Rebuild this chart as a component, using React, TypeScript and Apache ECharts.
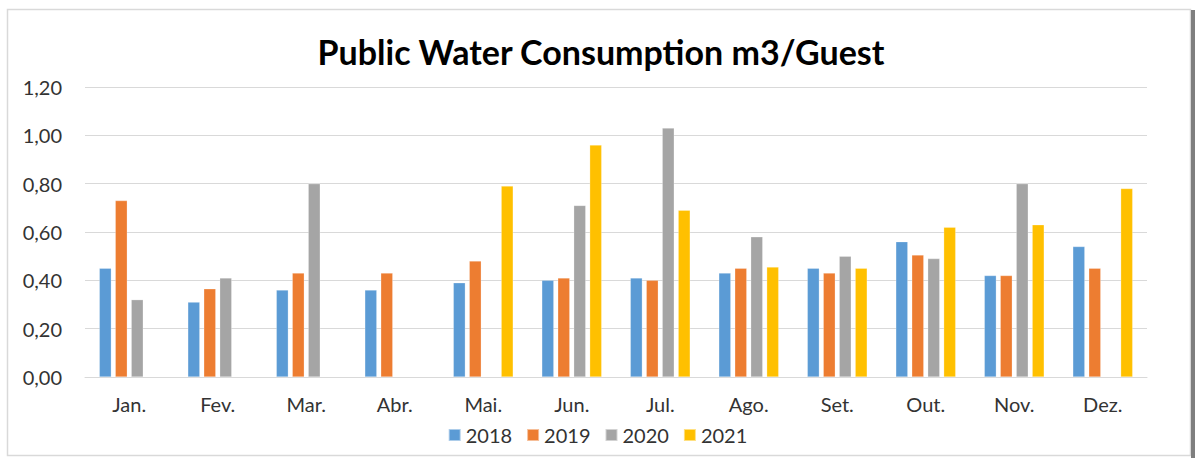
import React, { useEffect, useRef } from "react";
import * as echarts from "echarts";

const categories = ["Jan.", "Fev.", "Mar.", "Abr.", "Mai.", "Jun.", "Jul.", "Ago.", "Set.", "Out.", "Nov.", "Dez."];
const seriesNames = ["2018", "2019", "2020", "2021"];
const v2018 = [0.45, 0.31, 0.36, 0.36, 0.39, 0.40, 0.41, 0.43, 0.45, 0.56, 0.42, 0.54];
const v2019 = [0.73, 0.365, 0.43, 0.43, 0.48, 0.41, 0.40, 0.45, 0.43, 0.505, 0.42, 0.45];
const v2020 = [0.32, 0.41, 0.80, null, null, 0.71, 1.03, 0.58, 0.50, 0.49, 0.80, null];
const v2021 = [null, null, null, null, 0.79, 0.96, 0.69, 0.455, 0.45, 0.62, 0.63, 0.78];
const colors = ["#5B9BD5", "#ED7D31", "#A5A5A5", "#FFC000"];
const yTicks = { min: 0, max: 1.2, interval: 0.2 };

export default function App() {
  const ref = useRef<HTMLDivElement>(null);
  useEffect(() => {
    document.body.style.margin = "0";
    const chart = echarts.init(ref.current!, null, { renderer: "svg" });
    const data = [v2018, v2019, v2020, v2021];
    const font = "Lato, 'Open Sans', sans-serif";
    chart.setOption({
      animation: false,
      backgroundColor: "#fff",
      textStyle: { fontFamily: font },
      title: {
        text: "Public Water Consumption m3/Guest",
        left: 596,
        textAlign: "center",
        top: 29,
        textStyle: { fontFamily: font, fontWeight: "bold", fontSize: 34, color: "#000" },
      },
      legend: {
        data: seriesNames,
        bottom: 8,
        left: "center",
        itemWidth: 12,
        itemHeight: 12,
        itemGap: 14,
        icon: "rect",
        textStyle: { fontFamily: font, fontSize: 20, color: "#333", padding: [0, 0, 0, 0] },
      },
      grid: { left: 85, right: 48, top: 87, bottom: 81, containLabel: false },
      xAxis: {
        type: "category",
        data: categories,
        axisLine: { lineStyle: { color: "#D9D9D9", width: 1 } },
        axisTick: { show: false },
        axisLabel: { fontFamily: font, fontSize: 20, color: "#333", margin: 17 },
      },
      yAxis: {
        type: "value",
        min: yTicks.min,
        max: yTicks.max,
        interval: yTicks.interval,
        axisLine: { show: false },
        axisTick: { show: false },
        splitLine: { lineStyle: { color: "#D9D9D9", width: 1 } },
        axisLabel: {
          fontFamily: font,
          fontSize: 20,
          color: "#333",
          margin: 23,
          formatter: (v: number) => v.toFixed(2).replace(".", ","),
        },
      },
      series: seriesNames.map((n, i) => ({
        name: n,
        type: "bar",
        data: data[i],
        barWidth: 12,
        barGap: "33%",
        itemStyle: { color: colors[i], borderColor: "rgba(255,255,255,0.5)", borderWidth: 0.5 },
      })),
      graphic: [
        {
          type: "rect",
          shape: { x: 7.5, y: 9.5, width: 1183, height: 446 },
          style: { fill: "none", stroke: "#D9D9D9", lineWidth: 1.5 },
          silent: true,
        },
        {
          type: "rect",
          shape: { x: 1191, y: 10, width: 4, height: 448 },
          style: { fill: "#7F7F7F" },
          silent: true,
        },
      ],
    });
    return () => chart.dispose();
  }, []);
  return <div ref={ref} style={{ width: 1195, height: 458 }} />;
}
